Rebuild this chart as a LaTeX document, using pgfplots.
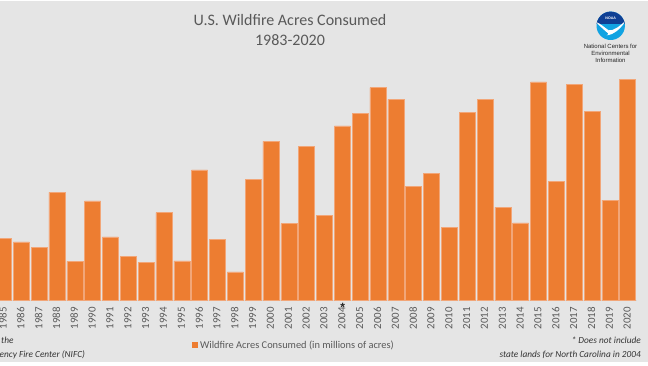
\documentclass[border=0pt]{standalone}
\usepackage{pgfplots}
\pgfplotsset{compat=1.18}
\usepackage{fontspec}
\setmainfont{Carlito}
\newfontfamily\arialf{Liberation Sans}
\definecolor{bg}{HTML}{E5E5E5}
\definecolor{bar}{HTML}{ED7D31}
\definecolor{edge}{HTML}{F2A678}
\definecolor{gridc}{HTML}{D9D9D9}
\definecolor{txt}{HTML}{595959}
\definecolor{noaad}{HTML}{0F3F94}
\definecolor{noaal}{HTML}{12A3E2}
\begin{document}
\begin{tikzpicture}[x=1pt,y=1pt]
\useasboundingbox (0,0) rectangle (648,365);
\fill[white] (0,0) rectangle (648,365);
\fill[bg] (0,3.3) rectangle (648,363.5);
\begin{axis}[
  at={(0pt,64.5pt)}, anchor=south west,
  scale only axis, width=636.6pt, height=237.6pt,
  xmin=1984.806, xmax=2020.5, ymin=0, ymax=11,
  axis y line=none, axis x line=bottom,
  axis line style={gridc, -},
  ybar, bar width=16pt,
  xtick={1985,...,2020},
  xticklabel style={rotate=90, anchor=east, font=\fontsize{10.9}{10.9}\selectfont, text=txt, inner sep=0pt, xshift=-6.5pt, yshift=0.5pt,
    /pgf/number format/1000 sep={}, /pgf/number format/assume math mode=true},
  major tick length=0pt,
  ytick={2,4,6,8,10},
  ymajorgrids, grid style={gridc, line width=0.9pt},
  clip=true,
]
\addplot[fill=bar, draw=edge, line width=0.5pt] coordinates {
(1985,2.88)(1986,2.71)(1987,2.45)(1988,5.01)(1989,1.81)(1990,4.61)
(1991,2.95)(1992,2.05)(1993,1.78)(1994,4.07)(1995,1.83)(1996,6.05)
(1997,2.83)(1998,1.32)(1999,5.61)(2000,7.37)(2001,3.56)(2002,7.15)
(2003,3.94)(2004,8.09)(2005,8.68)(2006,9.85)(2007,9.31)(2008,5.27)
(2009,5.90)(2010,3.40)(2011,8.71)(2012,9.31)(2013,4.31)(2014,3.59)
(2015,10.12)(2016,5.50)(2017,10.0)(2018,8.76)(2019,4.65)(2020,10.22)
};
\end{axis}
% asterisk over 2004
\node[font=\fontsize{12}{12}\selectfont\arialf\bfseries, text=black!85, inner sep=0] at (342.8,57.8) {*};
% title
\node[font=\fontsize{16}{16}\selectfont, text=txt, inner sep=0] at (290,345) {U.S. Wildfire Acres Consumed};
\node[font=\fontsize{16}{16}\selectfont, text=txt, inner sep=0] at (290,325.3) {1983-2020};
% legend
\fill[bar] (192,17.3) rectangle (197.5,22.8);
\node[anchor=west, font=\fontsize{10.4}{10.4}\selectfont, text=txt, inner sep=0] at (200,20) {Wildfire Acres Consumed (in millions of acres)};
% footnotes
\node[anchor=west, font=\fontsize{9.3}{9.3}\selectfont\itshape, text=black!80, inner sep=0] at (1,25) {the};
\node[anchor=west, font=\fontsize{9.3}{9.3}\selectfont\itshape, text=black!80, inner sep=0] at (-0.5,10.5) {ency Fire Center (NIFC)};
\node[anchor=east, font=\fontsize{9.3}{9.3}\selectfont\itshape, text=black!80, inner sep=0] at (641,25) {* Does not include};
\node[anchor=east, font=\fontsize{9.3}{9.3}\selectfont\itshape, text=black!80, inner sep=0] at (641,10.5) {state lands for North Carolina in 2004};
% NOAA logo
\begin{scope}[shift={(610.7,339.2)}]
\fill[noaal] (0,0) circle (14.2);
\begin{scope}
\clip (0,0) circle (14.2);
\fill[noaad] (-15,15) rectangle (15,2);
\fill[white] (-15,4) .. controls (-9,1.5) and (-6,-2) .. (-2,-4.5) .. controls (3,-5.5) and (9,0) .. (15,5)
  .. controls (10,-3) and (3,-9) .. (-4,-9.5) .. controls (-1,-8) and (-3,-7) .. (-5,-5.5) .. controls (-8,-3) and (-11,0) .. (-15,4) -- cycle;
\end{scope}
\node[font=\fontsize{3.6}{3.6}\selectfont\arialf\bfseries, text=white, inner sep=0] at (0,7.5) {NOAA};
\end{scope}
\node[font=\fontsize{6}{6}\selectfont\arialf, text=black!85, inner sep=0] at (610.5,319) {National Centers for};
\node[font=\fontsize{6}{6}\selectfont\arialf, text=black!85, inner sep=0] at (610.5,312) {Environmental};
\node[font=\fontsize{6}{6}\selectfont\arialf, text=black!85, inner sep=0] at (610.5,305) {Information};
\end{tikzpicture}
\end{document}
